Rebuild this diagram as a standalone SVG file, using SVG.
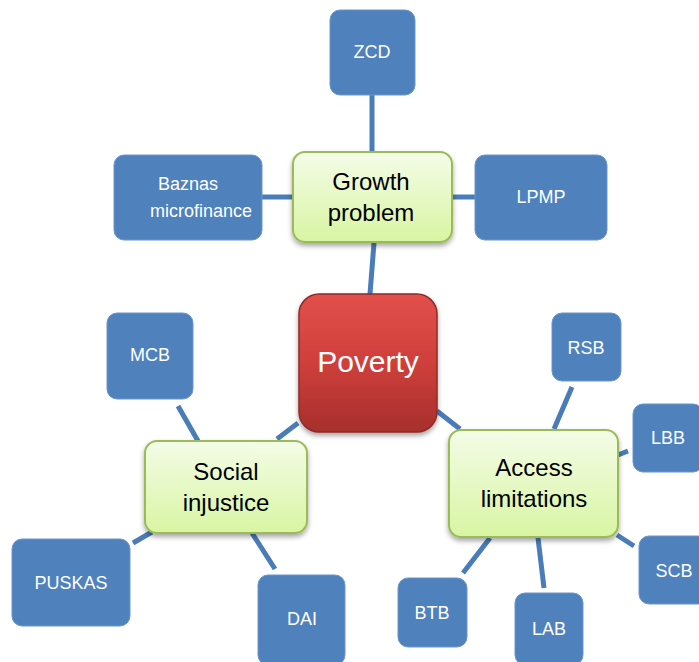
<svg xmlns="http://www.w3.org/2000/svg" width="699" height="662" viewBox="0 0 699 662">
<defs>
<linearGradient id="gGreen" x1="0" y1="0" x2="0" y2="1">
<stop offset="0" stop-color="#f4fce8"/>
<stop offset="1" stop-color="#d8f5a2"/>
</linearGradient>
<linearGradient id="gRed" x1="0" y1="0" x2="0" y2="1">
<stop offset="0" stop-color="#e2504c"/>
<stop offset="0.5" stop-color="#cf3f3b"/>
<stop offset="1" stop-color="#a62f2c"/>
</linearGradient>
<filter id="shadow" x="-20%" y="-20%" width="140%" height="150%">
<feDropShadow dx="0" dy="3" stdDeviation="2.5" flood-color="#000" flood-opacity="0.35"/>
</filter>
</defs>
<style>
.blue rect{fill:#4f81bd;stroke:#6b96cb;stroke-width:1}
.blue text{fill:#fff;font-family:"Liberation Sans",Arial,sans-serif;font-size:18px;text-anchor:middle}
.green rect{fill:url(#gGreen);stroke:#9bbb59;stroke-width:2;filter:url(#shadow)}
.green text{fill:#000;font-family:"Liberation Sans",Arial,sans-serif;font-size:24px;text-anchor:middle}
.red rect{fill:url(#gRed);stroke:#922a27;stroke-width:1.5;filter:url(#shadow)}
.red text{fill:#fff;font-family:"Liberation Sans",Arial,sans-serif;font-size:30px;text-anchor:middle}
#connectors line{stroke:#4a7cb8;stroke-width:5}
</style>
<g id="connectors">
<line x1="372" y1="95" x2="372" y2="152"/>
<line x1="262" y1="197" x2="293" y2="197"/>
<line x1="452" y1="197" x2="475" y2="197"/>
<line x1="374" y1="243" x2="370" y2="294"/>
<line x1="298" y1="423" x2="277" y2="439"/>
<line x1="437" y1="411" x2="460" y2="429"/>
<line x1="178" y1="406" x2="198" y2="441"/>
<line x1="133" y1="543" x2="152" y2="532"/>
<line x1="252" y1="533" x2="275" y2="569"/>
<line x1="572" y1="387" x2="554" y2="429"/>
<line x1="618" y1="455" x2="628" y2="451"/>
<line x1="617" y1="535" x2="634" y2="546"/>
<line x1="490" y1="538" x2="463" y2="573"/>
<line x1="538" y1="538" x2="544" y2="588"/>
</g>
<g id="zcd" class="blue"><rect x="330" y="10" width="85" height="85" rx="10"/><text x="372" y="58">ZCD</text></g>
<g id="baznas" class="blue"><rect x="114" y="155" width="148" height="85" rx="10"/><text x="188" y="190">Baznas</text><text x="201" y="217">microfinance</text></g>
<g id="lpmp" class="blue"><rect x="475" y="155" width="132" height="85" rx="10"/><text x="541" y="203">LPMP</text></g>
<g id="mcb" class="blue"><rect x="107" y="313" width="86" height="86" rx="10"/><text x="150" y="361">MCB</text></g>
<g id="rsb" class="blue"><rect x="552" y="313" width="69" height="68" rx="10"/><text x="586" y="354">RSB</text></g>
<g id="lbb" class="blue"><rect x="633" y="404" width="70" height="68" rx="10"/><text x="668" y="444">LBB</text></g>
<g id="scb" class="blue"><rect x="639" y="536" width="70" height="68" rx="10"/><text x="674" y="577">SCB</text></g>
<g id="puskas" class="blue"><rect x="12" y="539" width="118" height="87" rx="10"/><text x="71" y="589">PUSKAS</text></g>
<g id="dai" class="blue"><rect x="258" y="575" width="87" height="90" rx="10"/><text x="302" y="625">DAI</text></g>
<g id="btb" class="blue"><rect x="398" y="578" width="69" height="69" rx="10"/><text x="432" y="619">BTB</text></g>
<g id="lab" class="blue"><rect x="515" y="593" width="68" height="72" rx="10"/><text x="549" y="635">LAB</text></g>
<g id="growth" class="green"><rect x="293" y="152" width="159" height="90" rx="12"/><text x="371" y="190">Growth</text><text x="371" y="221">problem</text></g>
<g id="social" class="green"><rect x="145" y="441" width="162" height="92" rx="12"/><text x="226" y="480">Social</text><text x="226" y="511">injustice</text></g>
<g id="access" class="green"><rect x="449" y="430" width="169" height="107" rx="12"/><text x="534" y="476">Access</text><text x="534" y="507">limitations</text></g>
<g id="poverty" class="red"><rect x="299" y="294" width="138" height="138" rx="20"/><text x="368" y="372">Poverty</text></g>
</svg>
